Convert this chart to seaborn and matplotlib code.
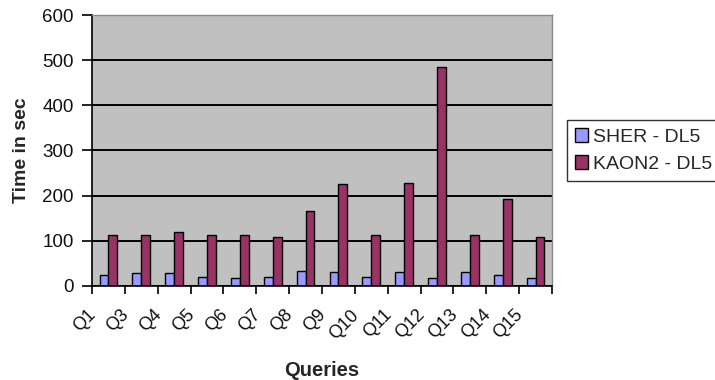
import matplotlib
matplotlib.use("Agg")
import matplotlib.pyplot as plt
import matplotlib.transforms as mtransforms
import seaborn as sns
import pandas as pd

queries = ["Q1", "Q3", "Q4", "Q5", "Q6", "Q7", "Q8", "Q9", "Q10",
           "Q11", "Q12", "Q13", "Q14", "Q15"]
sher_dl5 = [24, 28, 28, 21, 17, 21, 34, 31, 21, 31, 17, 31, 24, 17]
kaon2_dl5 = [113, 113, 120, 113, 113, 109, 166, 225, 113, 227, 485, 113, 193, 109]
series_names = ["SHER - DL5", "KAON2 - DL5"]
y_ticks = [0, 100, 200, 300, 400, 500, 600]

df = pd.DataFrame({
    "Query": queries * 2,
    "Time": sher_dl5 + kaon2_dl5,
    "Series": [series_names[0]] * len(queries) + [series_names[1]] * len(queries),
})

sns.set_theme(style="white")
plt.rcParams["font.family"] = ["Liberation Sans", "DejaVu Sans"]

fig = plt.figure(figsize=(7.15, 3.8), dpi=100)
ax = fig.add_axes([0.1287, 0.2474, 0.6433, 0.7131])
ax.set_facecolor("#C0C0C0")

sns.barplot(data=df, x="Query", y="Time", hue="Series", order=queries,
            hue_order=series_names, palette=["#9999FF", "#993366"],
            width=0.54, gap=0, edgecolor="black", linewidth=1.0,
            saturation=1, ax=ax, legend=True)

ax.set_xlim(-0.5, len(queries) - 0.5)
ax.set_ylim(0, 600)
ax.set_yticks(y_ticks)
ax.yaxis.grid(True, color="black", linewidth=1.4)
ax.set_axisbelow(True)

for side in ["top", "right"]:
    ax.spines[side].set_color("#8a8a8a")
    ax.spines[side].set_linewidth(1.0)
for side in ["left", "bottom"]:
    ax.spines[side].set_color("black")
    ax.spines[side].set_linewidth(1.2)

# category ticks sit on the boundaries between groups
ax.set_xticks([i - 0.5 for i in range(len(queries) + 1)], minor=True)
ax.tick_params(axis="x", which="minor", bottom=True, length=6, width=1.2,
               color="black", direction="out")
ax.tick_params(axis="x", which="major", bottom=False, length=0, pad=19,
               labelsize=13, labelcolor="#111111")
ax.tick_params(axis="y", left=True, length=7, width=1.2, color="black",
               direction="out", labelsize=13.5, labelcolor="#111111", pad=6)

ax.set_xticks(range(len(queries)))
ax.set_xticklabels(queries, rotation=45, ha="right", va="center",
                   rotation_mode="anchor")
shift = mtransforms.ScaledTranslation(-15 / 100, 0, fig.dpi_scale_trans)
for lbl in ax.get_xticklabels():
    lbl.set_transform(lbl.get_transform() + shift)

ax.set_xlabel("Queries", fontsize=14.5, fontweight="bold", labelpad=13)
ax.set_ylabel("Time in sec", fontsize=14, fontweight="bold", labelpad=9)

handles, labels = ax.get_legend_handles_labels()
ax.legend_.remove()
leg = fig.legend(handles, labels, loc="center left",
                 bbox_to_anchor=(0.793, 0.604), frameon=True, fancybox=False,
                 edgecolor="black", fontsize=14, handlelength=0.7,
                 handleheight=0.7, handletextpad=0.25, borderpad=0.4,
                 labelspacing=0.5, borderaxespad=0)
leg.get_frame().set_linewidth(1.0)

fig.savefig("out.png", dpi=100, facecolor="white")
